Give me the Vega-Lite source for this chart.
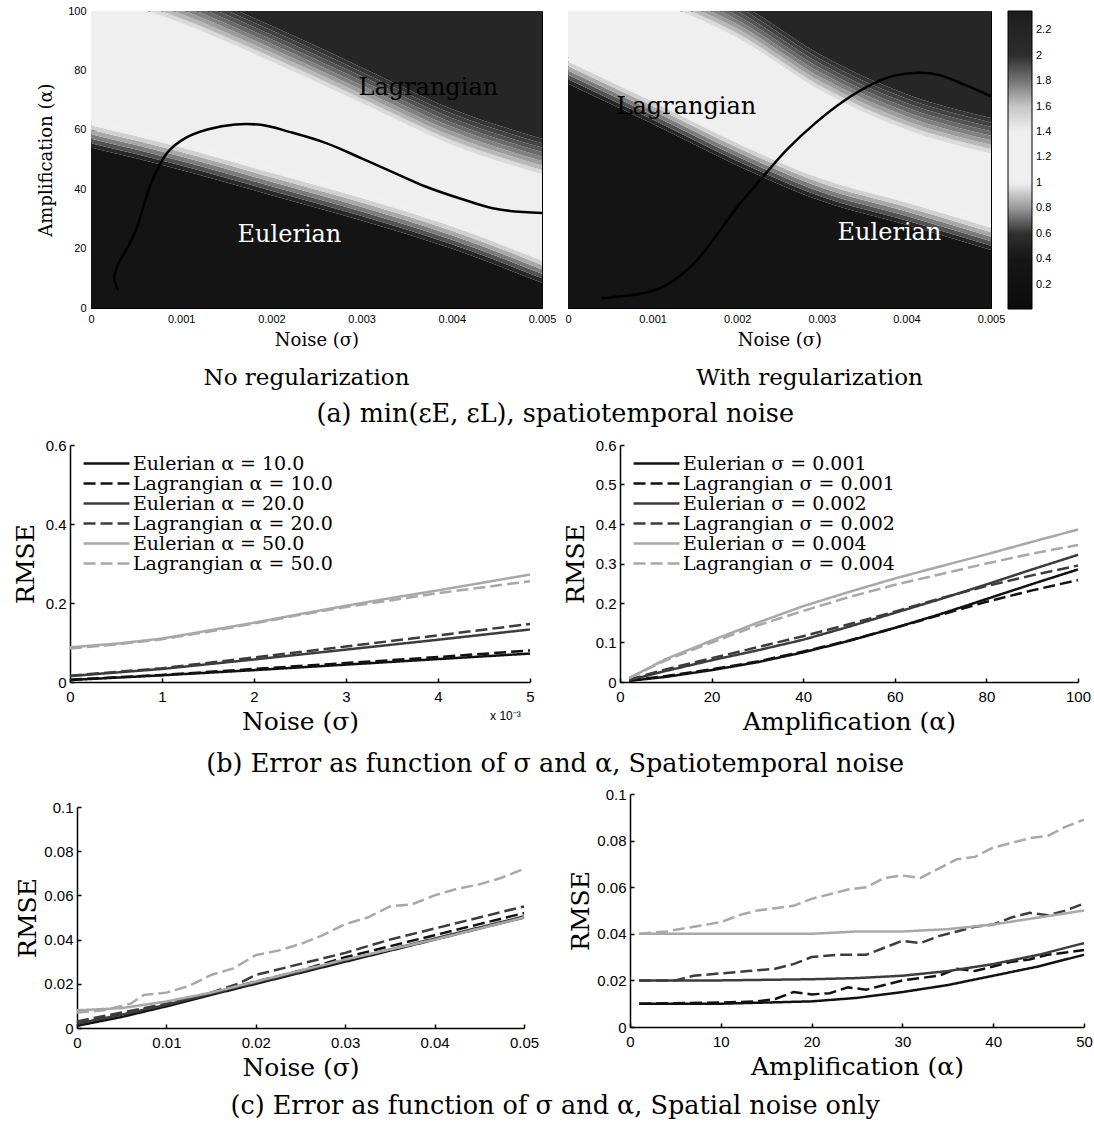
{
"$schema": "https://vega.github.io/schema/vega-lite/v6.json",
"padding": {"left": 4, "top": 4, "right": 2, "bottom": 2},
"background": "white",
"config": {
 "view": {"stroke": null},
 "font": "DejaVu Serif",
 "axis": {"labelFont": "Liberation Sans", "labelFontSize": 15, "labelColor": "black", "titleFont": "DejaVu Serif", "titleFontSize": 25, "titleFontWeight": "normal", "titleColor": "black", "domainColor": "black", "domainWidth": 1.5, "tickColor": "black", "tickWidth": 1.5, "tickSize": -4, "labelPadding": 8, "titlePadding": 3, "grid": false, "labelFlush": false, "labelOverlap": false},
 "axisX": {"labelPadding": 11.5, "titlePadding": 5},
 "title": {"font": "DejaVu Serif", "fontWeight": "normal", "fontSize": 25.5, "color": "black"},
 "legend": {"labelFont": "DejaVu Serif", "labelColor": "black"}
},
"datasets": {
 "hL": [
  {"b":1,"v":0.3,"x":0,"y":0,"y2":54},{"b":1,"v":0.3,"x":0.001,"y":0,"y2":46.5},{"b":1,"v":0.3,"x":0.002,"y":0,"y2":38},{"b":1,"v":0.3,"x":0.003,"y":0,"y2":29.5},{"b":1,"v":0.3,"x":0.004,"y":0,"y2":20},{"b":1,"v":0.3,"x":0.005,"y":0,"y2":8.5},
  {"b":2,"v":0.58,"x":0,"y":54,"y2":55.5},{"b":2,"v":0.58,"x":0.001,"y":46.5,"y2":48},{"b":2,"v":0.58,"x":0.002,"y":38,"y2":39.5},{"b":2,"v":0.58,"x":0.003,"y":29.5,"y2":31},{"b":2,"v":0.58,"x":0.004,"y":20,"y2":21.5},{"b":2,"v":0.58,"x":0.005,"y":8.5,"y2":10},
  {"b":3,"v":0.67,"x":0,"y":55.5,"y2":57},{"b":3,"v":0.67,"x":0.001,"y":48,"y2":49.5},{"b":3,"v":0.67,"x":0.002,"y":39.5,"y2":41},{"b":3,"v":0.67,"x":0.003,"y":31,"y2":32.5},{"b":3,"v":0.67,"x":0.004,"y":21.5,"y2":23},{"b":3,"v":0.67,"x":0.005,"y":10,"y2":11.5},
  {"b":4,"v":0.75,"x":0,"y":57,"y2":58.5},{"b":4,"v":0.75,"x":0.001,"y":49.5,"y2":51},{"b":4,"v":0.75,"x":0.002,"y":41,"y2":42.5},{"b":4,"v":0.75,"x":0.003,"y":32.5,"y2":34},{"b":4,"v":0.75,"x":0.004,"y":23,"y2":24.5},{"b":4,"v":0.75,"x":0.005,"y":11.5,"y2":13},
  {"b":5,"v":0.83,"x":0,"y":58.5,"y2":60},{"b":5,"v":0.83,"x":0.001,"y":51,"y2":52.5},{"b":5,"v":0.83,"x":0.002,"y":42.5,"y2":44},{"b":5,"v":0.83,"x":0.003,"y":34,"y2":35.5},{"b":5,"v":0.83,"x":0.004,"y":24.5,"y2":26},{"b":5,"v":0.83,"x":0.005,"y":13,"y2":14.5},
  {"b":6,"v":0.9,"x":0,"y":60,"y2":61.5},{"b":6,"v":0.9,"x":0.001,"y":52.5,"y2":54},{"b":6,"v":0.9,"x":0.002,"y":44,"y2":45.5},{"b":6,"v":0.9,"x":0.003,"y":35.5,"y2":37},{"b":6,"v":0.9,"x":0.004,"y":26,"y2":27.5},{"b":6,"v":0.9,"x":0.005,"y":14.5,"y2":16},
  {"b":7,"v":0.95,"x":0,"y":61.5,"y2":63},{"b":7,"v":0.95,"x":0.001,"y":54,"y2":55.5},{"b":7,"v":0.95,"x":0.002,"y":45.5,"y2":47},{"b":7,"v":0.95,"x":0.003,"y":37,"y2":38.5},{"b":7,"v":0.95,"x":0.004,"y":27.5,"y2":29},{"b":7,"v":0.95,"x":0.005,"y":16,"y2":17.5},
  {"b":8,"v":1.25,"x":0,"y":63,"y2":106},{"b":8,"v":1.25,"x":0.001,"y":55.5,"y2":96},{"b":8,"v":1.25,"x":0.002,"y":47,"y2":83},{"b":8,"v":1.25,"x":0.003,"y":38.5,"y2":69},{"b":8,"v":1.25,"x":0.004,"y":29,"y2":55},{"b":8,"v":1.25,"x":0.005,"y":17.5,"y2":45},
  {"b":9,"v":1.55,"x":0,"y":106,"y2":107.5},{"b":9,"v":1.55,"x":0.001,"y":96,"y2":97.5},{"b":9,"v":1.55,"x":0.002,"y":83,"y2":84.5},{"b":9,"v":1.55,"x":0.003,"y":69,"y2":70.5},{"b":9,"v":1.55,"x":0.004,"y":55,"y2":56.5},{"b":9,"v":1.55,"x":0.005,"y":45,"y2":46.5},
  {"b":10,"v":1.63,"x":0,"y":107.5,"y2":109},{"b":10,"v":1.63,"x":0.001,"y":97.5,"y2":99},{"b":10,"v":1.63,"x":0.002,"y":84.5,"y2":86},{"b":10,"v":1.63,"x":0.003,"y":70.5,"y2":72},{"b":10,"v":1.63,"x":0.004,"y":56.5,"y2":58},{"b":10,"v":1.63,"x":0.005,"y":46.5,"y2":48},
  {"b":11,"v":1.7,"x":0,"y":109,"y2":110.5},{"b":11,"v":1.7,"x":0.001,"y":99,"y2":100.5},{"b":11,"v":1.7,"x":0.002,"y":86,"y2":87.5},{"b":11,"v":1.7,"x":0.003,"y":72,"y2":73.5},{"b":11,"v":1.7,"x":0.004,"y":58,"y2":59.5},{"b":11,"v":1.7,"x":0.005,"y":48,"y2":49.5},
  {"b":12,"v":1.77,"x":0,"y":110.5,"y2":112},{"b":12,"v":1.77,"x":0.001,"y":100.5,"y2":102},{"b":12,"v":1.77,"x":0.002,"y":87.5,"y2":89},{"b":12,"v":1.77,"x":0.003,"y":73.5,"y2":75},{"b":12,"v":1.77,"x":0.004,"y":59.5,"y2":61},{"b":12,"v":1.77,"x":0.005,"y":49.5,"y2":51},
  {"b":13,"v":1.83,"x":0,"y":112,"y2":113.5},{"b":13,"v":1.83,"x":0.001,"y":102,"y2":103.5},{"b":13,"v":1.83,"x":0.002,"y":89,"y2":90.5},{"b":13,"v":1.83,"x":0.003,"y":75,"y2":76.5},{"b":13,"v":1.83,"x":0.004,"y":61,"y2":62.5},{"b":13,"v":1.83,"x":0.005,"y":51,"y2":52.5},
  {"b":14,"v":1.89,"x":0,"y":113.5,"y2":115},{"b":14,"v":1.89,"x":0.001,"y":103.5,"y2":105},{"b":14,"v":1.89,"x":0.002,"y":90.5,"y2":92},{"b":14,"v":1.89,"x":0.003,"y":76.5,"y2":78},{"b":14,"v":1.89,"x":0.004,"y":62.5,"y2":64},{"b":14,"v":1.89,"x":0.005,"y":52.5,"y2":54},
  {"b":15,"v":1.94,"x":0,"y":115,"y2":116.5},{"b":15,"v":1.94,"x":0.001,"y":105,"y2":106.5},{"b":15,"v":1.94,"x":0.002,"y":92,"y2":93.5},{"b":15,"v":1.94,"x":0.003,"y":78,"y2":79.5},{"b":15,"v":1.94,"x":0.004,"y":64,"y2":65.5},{"b":15,"v":1.94,"x":0.005,"y":54,"y2":55.5},
  {"b":16,"v":1.98,"x":0,"y":116.5,"y2":118},{"b":16,"v":1.98,"x":0.001,"y":106.5,"y2":108},{"b":16,"v":1.98,"x":0.002,"y":93.5,"y2":95},{"b":16,"v":1.98,"x":0.003,"y":79.5,"y2":81},{"b":16,"v":1.98,"x":0.004,"y":65.5,"y2":67},{"b":16,"v":1.98,"x":0.005,"y":55.5,"y2":57},
  {"b":17,"v":2.15,"x":0,"y":118,"y2":130},{"b":17,"v":2.15,"x":0.001,"y":108,"y2":130},{"b":17,"v":2.15,"x":0.002,"y":95,"y2":130},{"b":17,"v":2.15,"x":0.003,"y":81,"y2":130},{"b":17,"v":2.15,"x":0.004,"y":67,"y2":130},{"b":17,"v":2.15,"x":0.005,"y":57,"y2":130}
 ],
 "hR": [
  {"b":1,"v":0.3,"x":0,"y":0,"y2":75.5},{"b":1,"v":0.3,"x":0.001,"y":0,"y2":62},{"b":1,"v":0.3,"x":0.002,"y":0,"y2":48},{"b":1,"v":0.3,"x":0.003,"y":0,"y2":36},{"b":1,"v":0.3,"x":0.004,"y":0,"y2":28},{"b":1,"v":0.3,"x":0.005,"y":0,"y2":19.5},
  {"b":2,"v":0.58,"x":0,"y":75.5,"y2":77},{"b":2,"v":0.58,"x":0.001,"y":62,"y2":63.5},{"b":2,"v":0.58,"x":0.002,"y":48,"y2":49.5},{"b":2,"v":0.58,"x":0.003,"y":36,"y2":37.5},{"b":2,"v":0.58,"x":0.004,"y":28,"y2":29.5},{"b":2,"v":0.58,"x":0.005,"y":19.5,"y2":21},
  {"b":3,"v":0.67,"x":0,"y":77,"y2":78.5},{"b":3,"v":0.67,"x":0.001,"y":63.5,"y2":65},{"b":3,"v":0.67,"x":0.002,"y":49.5,"y2":51},{"b":3,"v":0.67,"x":0.003,"y":37.5,"y2":39},{"b":3,"v":0.67,"x":0.004,"y":29.5,"y2":31},{"b":3,"v":0.67,"x":0.005,"y":21,"y2":22.5},
  {"b":4,"v":0.75,"x":0,"y":78.5,"y2":80},{"b":4,"v":0.75,"x":0.001,"y":65,"y2":66.5},{"b":4,"v":0.75,"x":0.002,"y":51,"y2":52.5},{"b":4,"v":0.75,"x":0.003,"y":39,"y2":40.5},{"b":4,"v":0.75,"x":0.004,"y":31,"y2":32.5},{"b":4,"v":0.75,"x":0.005,"y":22.5,"y2":24},
  {"b":5,"v":0.83,"x":0,"y":80,"y2":81.5},{"b":5,"v":0.83,"x":0.001,"y":66.5,"y2":68},{"b":5,"v":0.83,"x":0.002,"y":52.5,"y2":54},{"b":5,"v":0.83,"x":0.003,"y":40.5,"y2":42},{"b":5,"v":0.83,"x":0.004,"y":32.5,"y2":34},{"b":5,"v":0.83,"x":0.005,"y":24,"y2":25.5},
  {"b":6,"v":0.9,"x":0,"y":81.5,"y2":83},{"b":6,"v":0.9,"x":0.001,"y":68,"y2":69.5},{"b":6,"v":0.9,"x":0.002,"y":54,"y2":55.5},{"b":6,"v":0.9,"x":0.003,"y":42,"y2":43.5},{"b":6,"v":0.9,"x":0.004,"y":34,"y2":35.5},{"b":6,"v":0.9,"x":0.005,"y":25.5,"y2":27},
  {"b":7,"v":0.95,"x":0,"y":83,"y2":84.5},{"b":7,"v":0.95,"x":0.001,"y":69.5,"y2":71},{"b":7,"v":0.95,"x":0.002,"y":55.5,"y2":57},{"b":7,"v":0.95,"x":0.003,"y":43.5,"y2":45},{"b":7,"v":0.95,"x":0.004,"y":35.5,"y2":37},{"b":7,"v":0.95,"x":0.005,"y":27,"y2":28.5},
  {"b":8,"v":1.25,"x":0,"y":84.5,"y2":116},{"b":8,"v":1.25,"x":0.001,"y":71,"y2":104},{"b":8,"v":1.25,"x":0.002,"y":57,"y2":91},{"b":8,"v":1.25,"x":0.003,"y":45,"y2":73},{"b":8,"v":1.25,"x":0.004,"y":37,"y2":60},{"b":8,"v":1.25,"x":0.005,"y":28.5,"y2":52},
  {"b":9,"v":1.55,"x":0,"y":116,"y2":117.5},{"b":9,"v":1.55,"x":0.001,"y":104,"y2":105.5},{"b":9,"v":1.55,"x":0.002,"y":91,"y2":92.5},{"b":9,"v":1.55,"x":0.003,"y":73,"y2":74.5},{"b":9,"v":1.55,"x":0.004,"y":60,"y2":61.5},{"b":9,"v":1.55,"x":0.005,"y":52,"y2":53.5},
  {"b":10,"v":1.63,"x":0,"y":117.5,"y2":119},{"b":10,"v":1.63,"x":0.001,"y":105.5,"y2":107},{"b":10,"v":1.63,"x":0.002,"y":92.5,"y2":94},{"b":10,"v":1.63,"x":0.003,"y":74.5,"y2":76},{"b":10,"v":1.63,"x":0.004,"y":61.5,"y2":63},{"b":10,"v":1.63,"x":0.005,"y":53.5,"y2":55},
  {"b":11,"v":1.7,"x":0,"y":119,"y2":120.5},{"b":11,"v":1.7,"x":0.001,"y":107,"y2":108.5},{"b":11,"v":1.7,"x":0.002,"y":94,"y2":95.5},{"b":11,"v":1.7,"x":0.003,"y":76,"y2":77.5},{"b":11,"v":1.7,"x":0.004,"y":63,"y2":64.5},{"b":11,"v":1.7,"x":0.005,"y":55,"y2":56.5},
  {"b":12,"v":1.77,"x":0,"y":120.5,"y2":122},{"b":12,"v":1.77,"x":0.001,"y":108.5,"y2":110},{"b":12,"v":1.77,"x":0.002,"y":95.5,"y2":97},{"b":12,"v":1.77,"x":0.003,"y":77.5,"y2":79},{"b":12,"v":1.77,"x":0.004,"y":64.5,"y2":66},{"b":12,"v":1.77,"x":0.005,"y":56.5,"y2":58},
  {"b":13,"v":1.83,"x":0,"y":122,"y2":123.5},{"b":13,"v":1.83,"x":0.001,"y":110,"y2":111.5},{"b":13,"v":1.83,"x":0.002,"y":97,"y2":98.5},{"b":13,"v":1.83,"x":0.003,"y":79,"y2":80.5},{"b":13,"v":1.83,"x":0.004,"y":66,"y2":67.5},{"b":13,"v":1.83,"x":0.005,"y":58,"y2":59.5},
  {"b":14,"v":1.89,"x":0,"y":123.5,"y2":125},{"b":14,"v":1.89,"x":0.001,"y":111.5,"y2":113},{"b":14,"v":1.89,"x":0.002,"y":98.5,"y2":100},{"b":14,"v":1.89,"x":0.003,"y":80.5,"y2":82},{"b":14,"v":1.89,"x":0.004,"y":67.5,"y2":69},{"b":14,"v":1.89,"x":0.005,"y":59.5,"y2":61},
  {"b":15,"v":1.94,"x":0,"y":125,"y2":126.5},{"b":15,"v":1.94,"x":0.001,"y":113,"y2":114.5},{"b":15,"v":1.94,"x":0.002,"y":100,"y2":101.5},{"b":15,"v":1.94,"x":0.003,"y":82,"y2":83.5},{"b":15,"v":1.94,"x":0.004,"y":69,"y2":70.5},{"b":15,"v":1.94,"x":0.005,"y":61,"y2":62.5},
  {"b":16,"v":1.98,"x":0,"y":126.5,"y2":128},{"b":16,"v":1.98,"x":0.001,"y":114.5,"y2":116},{"b":16,"v":1.98,"x":0.002,"y":101.5,"y2":103},{"b":16,"v":1.98,"x":0.003,"y":83.5,"y2":85},{"b":16,"v":1.98,"x":0.004,"y":70.5,"y2":72},{"b":16,"v":1.98,"x":0.005,"y":62.5,"y2":64},
  {"b":17,"v":2.15,"x":0,"y":128,"y2":130},{"b":17,"v":2.15,"x":0.001,"y":116,"y2":130},{"b":17,"v":2.15,"x":0.002,"y":103,"y2":130},{"b":17,"v":2.15,"x":0.003,"y":85,"y2":130},{"b":17,"v":2.15,"x":0.004,"y":72,"y2":130},{"b":17,"v":2.15,"x":0.005,"y":64,"y2":130}
 ],
 "cL": [
  {"i":1,"x":0.0003,"y":6},{"i":2,"x":0.00026,"y":10},{"i":3,"x":0.00029,"y":14},{"i":4,"x":0.00036,"y":18},{"i":5,"x":0.00045,"y":23},{"i":6,"x":0.00052,"y":28},{"i":7,"x":0.00057,"y":33},{"i":8,"x":0.00062,"y":38},{"i":9,"x":0.00068,"y":43},{"i":10,"x":0.00075,"y":47.5},{"i":11,"x":0.00085,"y":52.5},{"i":12,"x":0.00105,"y":57.3},{"i":13,"x":0.0013,"y":60.2},{"i":14,"x":0.0016,"y":61.8},{"i":15,"x":0.0019,"y":61.6},{"i":16,"x":0.0022,"y":59.3},{"i":17,"x":0.0026,"y":55.6},{"i":18,"x":0.003,"y":50.4},{"i":19,"x":0.0034,"y":45},{"i":20,"x":0.0037,"y":41},{"i":21,"x":0.0041,"y":36.8},{"i":22,"x":0.0045,"y":33.3},{"i":23,"x":0.005,"y":32}
 ],
 "cR": [
  {"i":1,"x":0.0004,"y":3.3},{"i":2,"x":0.00051,"y":3.6},{"i":3,"x":0.00084,"y":4.7},{"i":4,"x":0.00109,"y":6.7},{"i":5,"x":0.00134,"y":11.2},{"i":6,"x":0.00155,"y":16.9},{"i":7,"x":0.00176,"y":24.7},{"i":8,"x":0.00201,"y":34.3},{"i":9,"x":0.00226,"y":42.7},{"i":10,"x":0.00259,"y":53.4},{"i":11,"x":0.00293,"y":62.4},{"i":12,"x":0.00326,"y":69.7},{"i":13,"x":0.00359,"y":75.3},{"i":14,"x":0.00384,"y":78.1},{"i":15,"x":0.00414,"y":79.2},{"i":16,"x":0.00439,"y":78.4},{"i":17,"x":0.00468,"y":75.3},{"i":18,"x":0.005,"y":71.3}
 ],
 "bL": [
  {"s":"Eulerian α = 10.0","x":0,"r":0.005},{"s":"Eulerian α = 10.0","x":0.001,"r":0.017},{"s":"Eulerian α = 10.0","x":0.002,"r":0.03},{"s":"Eulerian α = 10.0","x":0.003,"r":0.044},{"s":"Eulerian α = 10.0","x":0.004,"r":0.058},{"s":"Eulerian α = 10.0","x":0.005,"r":0.072},
  {"s":"Lagrangian α = 10.0","x":0,"r":0.006},{"s":"Lagrangian α = 10.0","x":0.001,"r":0.018},{"s":"Lagrangian α = 10.0","x":0.002,"r":0.033},{"s":"Lagrangian α = 10.0","x":0.003,"r":0.048},{"s":"Lagrangian α = 10.0","x":0.004,"r":0.063},{"s":"Lagrangian α = 10.0","x":0.005,"r":0.08},
  {"s":"Eulerian α = 20.0","x":0,"r":0.015},{"s":"Eulerian α = 20.0","x":0.001,"r":0.033},{"s":"Eulerian α = 20.0","x":0.002,"r":0.057},{"s":"Eulerian α = 20.0","x":0.003,"r":0.082},{"s":"Eulerian α = 20.0","x":0.004,"r":0.107},{"s":"Eulerian α = 20.0","x":0.005,"r":0.133},
  {"s":"Lagrangian α = 20.0","x":0,"r":0.016},{"s":"Lagrangian α = 20.0","x":0.001,"r":0.035},{"s":"Lagrangian α = 20.0","x":0.002,"r":0.062},{"s":"Lagrangian α = 20.0","x":0.003,"r":0.09},{"s":"Lagrangian α = 20.0","x":0.004,"r":0.118},{"s":"Lagrangian α = 20.0","x":0.005,"r":0.147},
  {"s":"Eulerian α = 50.0","x":0,"r":0.088},{"s":"Eulerian α = 50.0","x":0.0005,"r":0.097},{"s":"Eulerian α = 50.0","x":0.001,"r":0.11},{"s":"Eulerian α = 50.0","x":0.0015,"r":0.13},{"s":"Eulerian α = 50.0","x":0.002,"r":0.15},{"s":"Eulerian α = 50.0","x":0.0025,"r":0.172},{"s":"Eulerian α = 50.0","x":0.003,"r":0.193},{"s":"Eulerian α = 50.0","x":0.0035,"r":0.213},{"s":"Eulerian α = 50.0","x":0.004,"r":0.232},{"s":"Eulerian α = 50.0","x":0.0045,"r":0.252},{"s":"Eulerian α = 50.0","x":0.005,"r":0.272},
  {"s":"Lagrangian α = 50.0","x":0,"r":0.085},{"s":"Lagrangian α = 50.0","x":0.0005,"r":0.095},{"s":"Lagrangian α = 50.0","x":0.001,"r":0.108},{"s":"Lagrangian α = 50.0","x":0.0015,"r":0.127},{"s":"Lagrangian α = 50.0","x":0.002,"r":0.148},{"s":"Lagrangian α = 50.0","x":0.0025,"r":0.17},{"s":"Lagrangian α = 50.0","x":0.003,"r":0.19},{"s":"Lagrangian α = 50.0","x":0.0035,"r":0.207},{"s":"Lagrangian α = 50.0","x":0.004,"r":0.225},{"s":"Lagrangian α = 50.0","x":0.0045,"r":0.24},{"s":"Lagrangian α = 50.0","x":0.005,"r":0.255}
 ],
 "bR": [
  {"s":"Eulerian σ = 0.001","x":2,"r":0.003},{"s":"Eulerian σ = 0.001","x":10,"r":0.013},{"s":"Eulerian σ = 0.001","x":20,"r":0.03},{"s":"Eulerian σ = 0.001","x":30,"r":0.05},{"s":"Eulerian σ = 0.001","x":40,"r":0.075},{"s":"Eulerian σ = 0.001","x":50,"r":0.104},{"s":"Eulerian σ = 0.001","x":60,"r":0.137},{"s":"Eulerian σ = 0.001","x":70,"r":0.172},{"s":"Eulerian σ = 0.001","x":80,"r":0.21},{"s":"Eulerian σ = 0.001","x":90,"r":0.248},{"s":"Eulerian σ = 0.001","x":100,"r":0.285},
  {"s":"Lagrangian σ = 0.001","x":2,"r":0.004},{"s":"Lagrangian σ = 0.001","x":10,"r":0.015},{"s":"Lagrangian σ = 0.001","x":20,"r":0.032},{"s":"Lagrangian σ = 0.001","x":30,"r":0.052},{"s":"Lagrangian σ = 0.001","x":40,"r":0.077},{"s":"Lagrangian σ = 0.001","x":50,"r":0.105},{"s":"Lagrangian σ = 0.001","x":60,"r":0.137},{"s":"Lagrangian σ = 0.001","x":70,"r":0.17},{"s":"Lagrangian σ = 0.001","x":80,"r":0.203},{"s":"Lagrangian σ = 0.001","x":90,"r":0.232},{"s":"Lagrangian σ = 0.001","x":100,"r":0.258},
  {"s":"Eulerian σ = 0.002","x":2,"r":0.005},{"s":"Eulerian σ = 0.002","x":10,"r":0.028},{"s":"Eulerian σ = 0.002","x":20,"r":0.055},{"s":"Eulerian σ = 0.002","x":30,"r":0.08},{"s":"Eulerian σ = 0.002","x":40,"r":0.107},{"s":"Eulerian σ = 0.002","x":50,"r":0.14},{"s":"Eulerian σ = 0.002","x":60,"r":0.175},{"s":"Eulerian σ = 0.002","x":70,"r":0.21},{"s":"Eulerian σ = 0.002","x":80,"r":0.247},{"s":"Eulerian σ = 0.002","x":90,"r":0.285},{"s":"Eulerian σ = 0.002","x":100,"r":0.322},
  {"s":"Lagrangian σ = 0.002","x":2,"r":0.006},{"s":"Lagrangian σ = 0.002","x":10,"r":0.032},{"s":"Lagrangian σ = 0.002","x":20,"r":0.06},{"s":"Lagrangian σ = 0.002","x":30,"r":0.088},{"s":"Lagrangian σ = 0.002","x":40,"r":0.116},{"s":"Lagrangian σ = 0.002","x":50,"r":0.146},{"s":"Lagrangian σ = 0.002","x":60,"r":0.178},{"s":"Lagrangian σ = 0.002","x":70,"r":0.212},{"s":"Lagrangian σ = 0.002","x":80,"r":0.243},{"s":"Lagrangian σ = 0.002","x":90,"r":0.27},{"s":"Lagrangian σ = 0.002","x":100,"r":0.295},
  {"s":"Eulerian σ = 0.004","x":2,"r":0.01},{"s":"Eulerian σ = 0.004","x":10,"r":0.058},{"s":"Eulerian σ = 0.004","x":20,"r":0.105},{"s":"Eulerian σ = 0.004","x":30,"r":0.15},{"s":"Eulerian σ = 0.004","x":40,"r":0.192},{"s":"Eulerian σ = 0.004","x":50,"r":0.228},{"s":"Eulerian σ = 0.004","x":60,"r":0.262},{"s":"Eulerian σ = 0.004","x":70,"r":0.293},{"s":"Eulerian σ = 0.004","x":80,"r":0.323},{"s":"Eulerian σ = 0.004","x":90,"r":0.355},{"s":"Eulerian σ = 0.004","x":100,"r":0.386},
  {"s":"Lagrangian σ = 0.004","x":2,"r":0.01},{"s":"Lagrangian σ = 0.004","x":10,"r":0.055},{"s":"Lagrangian σ = 0.004","x":20,"r":0.1},{"s":"Lagrangian σ = 0.004","x":30,"r":0.143},{"s":"Lagrangian σ = 0.004","x":40,"r":0.18},{"s":"Lagrangian σ = 0.004","x":50,"r":0.215},{"s":"Lagrangian σ = 0.004","x":60,"r":0.246},{"s":"Lagrangian σ = 0.004","x":70,"r":0.273},{"s":"Lagrangian σ = 0.004","x":80,"r":0.3},{"s":"Lagrangian σ = 0.004","x":90,"r":0.325},{"s":"Lagrangian σ = 0.004","x":100,"r":0.347}
 ],
 "sL": [
  {"s":"Eulerian α = 10.0","x":0,"r":0.001},{"s":"Eulerian α = 10.0","x":0.005,"r":0.005},{"s":"Eulerian α = 10.0","x":0.01,"r":0.0098},{"s":"Eulerian α = 10.0","x":0.015,"r":0.015},{"s":"Eulerian α = 10.0","x":0.02,"r":0.02},{"s":"Eulerian α = 10.0","x":0.025,"r":0.025},{"s":"Eulerian α = 10.0","x":0.03,"r":0.03},{"s":"Eulerian α = 10.0","x":0.035,"r":0.035},{"s":"Eulerian α = 10.0","x":0.04,"r":0.04},{"s":"Eulerian α = 10.0","x":0.045,"r":0.045},{"s":"Eulerian α = 10.0","x":0.05,"r":0.05},
  {"s":"Lagrangian α = 10.0","x":0,"r":0.002},{"s":"Lagrangian α = 10.0","x":0.01,"r":0.0105},{"s":"Lagrangian α = 10.0","x":0.02,"r":0.021},{"s":"Lagrangian α = 10.0","x":0.025,"r":0.026},{"s":"Lagrangian α = 10.0","x":0.03,"r":0.032},{"s":"Lagrangian α = 10.0","x":0.035,"r":0.037},{"s":"Lagrangian α = 10.0","x":0.04,"r":0.042},{"s":"Lagrangian α = 10.0","x":0.045,"r":0.047},{"s":"Lagrangian α = 10.0","x":0.05,"r":0.052},
  {"s":"Eulerian α = 20.0","x":0,"r":0.002},{"s":"Eulerian α = 20.0","x":0.005,"r":0.006},{"s":"Eulerian α = 20.0","x":0.01,"r":0.0105},{"s":"Eulerian α = 20.0","x":0.02,"r":0.0205},{"s":"Eulerian α = 20.0","x":0.03,"r":0.0305},{"s":"Eulerian α = 20.0","x":0.04,"r":0.0405},{"s":"Eulerian α = 20.0","x":0.05,"r":0.0505},
  {"s":"Lagrangian α = 20.0","x":0,"r":0.003},{"s":"Lagrangian α = 20.0","x":0.01,"r":0.011},{"s":"Lagrangian α = 20.0","x":0.015,"r":0.016},{"s":"Lagrangian α = 20.0","x":0.018,"r":0.02},{"s":"Lagrangian α = 20.0","x":0.02,"r":0.024},{"s":"Lagrangian α = 20.0","x":0.025,"r":0.029},{"s":"Lagrangian α = 20.0","x":0.03,"r":0.034},{"s":"Lagrangian α = 20.0","x":0.035,"r":0.04},{"s":"Lagrangian α = 20.0","x":0.04,"r":0.045},{"s":"Lagrangian α = 20.0","x":0.045,"r":0.05},{"s":"Lagrangian α = 20.0","x":0.05,"r":0.055},
  {"s":"Eulerian α = 50.0","x":0,"r":0.008},{"s":"Eulerian α = 50.0","x":0.005,"r":0.009},{"s":"Eulerian α = 50.0","x":0.01,"r":0.012},{"s":"Eulerian α = 50.0","x":0.015,"r":0.016},{"s":"Eulerian α = 50.0","x":0.02,"r":0.021},{"s":"Eulerian α = 50.0","x":0.03,"r":0.031},{"s":"Eulerian α = 50.0","x":0.04,"r":0.04},{"s":"Eulerian α = 50.0","x":0.05,"r":0.05},
  {"s":"Lagrangian α = 50.0","x":0,"r":0.007},{"s":"Lagrangian α = 50.0","x":0.003,"r":0.008},{"s":"Lagrangian α = 50.0","x":0.006,"r":0.011},{"s":"Lagrangian α = 50.0","x":0.0075,"r":0.015},{"s":"Lagrangian α = 50.0","x":0.01,"r":0.016},{"s":"Lagrangian α = 50.0","x":0.0125,"r":0.019},{"s":"Lagrangian α = 50.0","x":0.015,"r":0.024},{"s":"Lagrangian α = 50.0","x":0.0175,"r":0.027},{"s":"Lagrangian α = 50.0","x":0.02,"r":0.033},{"s":"Lagrangian α = 50.0","x":0.0225,"r":0.035},{"s":"Lagrangian α = 50.0","x":0.025,"r":0.038},{"s":"Lagrangian α = 50.0","x":0.0275,"r":0.042},{"s":"Lagrangian α = 50.0","x":0.03,"r":0.047},{"s":"Lagrangian α = 50.0","x":0.0325,"r":0.05},{"s":"Lagrangian α = 50.0","x":0.035,"r":0.055},{"s":"Lagrangian α = 50.0","x":0.0375,"r":0.056},{"s":"Lagrangian α = 50.0","x":0.04,"r":0.06},{"s":"Lagrangian α = 50.0","x":0.0425,"r":0.063},{"s":"Lagrangian α = 50.0","x":0.045,"r":0.065},{"s":"Lagrangian α = 50.0","x":0.0475,"r":0.068},{"s":"Lagrangian α = 50.0","x":0.05,"r":0.072}
 ],
 "sR": [
  {"s":"Eulerian σ = 0.001","x":1,"r":0.01},{"s":"Eulerian σ = 0.001","x":10,"r":0.01},{"s":"Eulerian σ = 0.001","x":15,"r":0.0105},{"s":"Eulerian σ = 0.001","x":20,"r":0.011},{"s":"Eulerian σ = 0.001","x":25,"r":0.0125},{"s":"Eulerian σ = 0.001","x":30,"r":0.015},{"s":"Eulerian σ = 0.001","x":35,"r":0.018},{"s":"Eulerian σ = 0.001","x":40,"r":0.022},{"s":"Eulerian σ = 0.001","x":45,"r":0.026},{"s":"Eulerian σ = 0.001","x":50,"r":0.031},
  {"s":"Lagrangian σ = 0.001","x":1,"r":0.01},{"s":"Lagrangian σ = 0.001","x":10,"r":0.0105},{"s":"Lagrangian σ = 0.001","x":14,"r":0.011},{"s":"Lagrangian σ = 0.001","x":16,"r":0.012},{"s":"Lagrangian σ = 0.001","x":18,"r":0.015},{"s":"Lagrangian σ = 0.001","x":20,"r":0.014},{"s":"Lagrangian σ = 0.001","x":22,"r":0.0145},{"s":"Lagrangian σ = 0.001","x":24,"r":0.017},{"s":"Lagrangian σ = 0.001","x":26,"r":0.016},{"s":"Lagrangian σ = 0.001","x":28,"r":0.018},{"s":"Lagrangian σ = 0.001","x":30,"r":0.02},{"s":"Lagrangian σ = 0.001","x":32,"r":0.021},{"s":"Lagrangian σ = 0.001","x":34,"r":0.022},{"s":"Lagrangian σ = 0.001","x":36,"r":0.025},{"s":"Lagrangian σ = 0.001","x":38,"r":0.024},{"s":"Lagrangian σ = 0.001","x":40,"r":0.026},{"s":"Lagrangian σ = 0.001","x":42,"r":0.028},{"s":"Lagrangian σ = 0.001","x":44,"r":0.029},{"s":"Lagrangian σ = 0.001","x":46,"r":0.031},{"s":"Lagrangian σ = 0.001","x":48,"r":0.032},{"s":"Lagrangian σ = 0.001","x":50,"r":0.033},
  {"s":"Eulerian σ = 0.002","x":1,"r":0.02},{"s":"Eulerian σ = 0.002","x":10,"r":0.02},{"s":"Eulerian σ = 0.002","x":20,"r":0.0205},{"s":"Eulerian σ = 0.002","x":25,"r":0.021},{"s":"Eulerian σ = 0.002","x":30,"r":0.022},{"s":"Eulerian σ = 0.002","x":35,"r":0.024},{"s":"Eulerian σ = 0.002","x":40,"r":0.027},{"s":"Eulerian σ = 0.002","x":45,"r":0.031},{"s":"Eulerian σ = 0.002","x":50,"r":0.036},
  {"s":"Lagrangian σ = 0.002","x":1,"r":0.02},{"s":"Lagrangian σ = 0.002","x":5,"r":0.02},{"s":"Lagrangian σ = 0.002","x":7,"r":0.022},{"s":"Lagrangian σ = 0.002","x":10,"r":0.023},{"s":"Lagrangian σ = 0.002","x":13,"r":0.024},{"s":"Lagrangian σ = 0.002","x":16,"r":0.025},{"s":"Lagrangian σ = 0.002","x":18,"r":0.027},{"s":"Lagrangian σ = 0.002","x":20,"r":0.03},{"s":"Lagrangian σ = 0.002","x":23,"r":0.031},{"s":"Lagrangian σ = 0.002","x":26,"r":0.031},{"s":"Lagrangian σ = 0.002","x":28,"r":0.034},{"s":"Lagrangian σ = 0.002","x":30,"r":0.037},{"s":"Lagrangian σ = 0.002","x":32,"r":0.036},{"s":"Lagrangian σ = 0.002","x":34,"r":0.039},{"s":"Lagrangian σ = 0.002","x":36,"r":0.041},{"s":"Lagrangian σ = 0.002","x":38,"r":0.043},{"s":"Lagrangian σ = 0.002","x":40,"r":0.044},{"s":"Lagrangian σ = 0.002","x":42,"r":0.047},{"s":"Lagrangian σ = 0.002","x":44,"r":0.049},{"s":"Lagrangian σ = 0.002","x":46,"r":0.048},{"s":"Lagrangian σ = 0.002","x":48,"r":0.05},{"s":"Lagrangian σ = 0.002","x":50,"r":0.053},
  {"s":"Eulerian σ = 0.004","x":1,"r":0.04},{"s":"Eulerian σ = 0.004","x":10,"r":0.04},{"s":"Eulerian σ = 0.004","x":20,"r":0.04},{"s":"Eulerian σ = 0.004","x":25,"r":0.041},{"s":"Eulerian σ = 0.004","x":30,"r":0.041},{"s":"Eulerian σ = 0.004","x":35,"r":0.042},{"s":"Eulerian σ = 0.004","x":40,"r":0.044},{"s":"Eulerian σ = 0.004","x":45,"r":0.047},{"s":"Eulerian σ = 0.004","x":50,"r":0.05},
  {"s":"Lagrangian σ = 0.004","x":1,"r":0.04},{"s":"Lagrangian σ = 0.004","x":4,"r":0.041},{"s":"Lagrangian σ = 0.004","x":7,"r":0.043},{"s":"Lagrangian σ = 0.004","x":10,"r":0.045},{"s":"Lagrangian σ = 0.004","x":12,"r":0.048},{"s":"Lagrangian σ = 0.004","x":14,"r":0.05},{"s":"Lagrangian σ = 0.004","x":16,"r":0.051},{"s":"Lagrangian σ = 0.004","x":18,"r":0.052},{"s":"Lagrangian σ = 0.004","x":20,"r":0.055},{"s":"Lagrangian σ = 0.004","x":22,"r":0.057},{"s":"Lagrangian σ = 0.004","x":24,"r":0.059},{"s":"Lagrangian σ = 0.004","x":26,"r":0.06},{"s":"Lagrangian σ = 0.004","x":28,"r":0.064},{"s":"Lagrangian σ = 0.004","x":30,"r":0.065},{"s":"Lagrangian σ = 0.004","x":32,"r":0.064},{"s":"Lagrangian σ = 0.004","x":34,"r":0.068},{"s":"Lagrangian σ = 0.004","x":36,"r":0.072},{"s":"Lagrangian σ = 0.004","x":38,"r":0.073},{"s":"Lagrangian σ = 0.004","x":40,"r":0.077},{"s":"Lagrangian σ = 0.004","x":42,"r":0.079},{"s":"Lagrangian σ = 0.004","x":44,"r":0.081},{"s":"Lagrangian σ = 0.004","x":46,"r":0.082},{"s":"Lagrangian σ = 0.004","x":48,"r":0.086},{"s":"Lagrangian σ = 0.004","x":50,"r":0.089}
 ]
},
"spacing": 10,
"resolve": {"scale": {"color": "independent", "strokeDash": "independent"}, "legend": {"color": "independent", "strokeDash": "independent"}},
"vconcat": [
 {
  "spacing": 0,
  "resolve": {"scale": {"color": "independent", "strokeDash": "independent"}, "legend": {"color": "independent", "strokeDash": "independent"}},
  "title": {"text": "(a) min(εE, εL), spatiotemporal noise", "orient": "bottom", "anchor": "middle", "offset": 12, "dx": 27},
  "hconcat": [
   {"width": 33, "height": 1, "data": {"values": []}, "mark": "rect", "encoding": {}},
   {
    "spacing": 7,
    "resolve": {"scale": {"color": "independent"}, "legend": {"color": "independent"}},
    "hconcat": [
     {
      "width": 451, "height": 297,
      "view": {"stroke": "black", "strokeWidth": 1},
      "title": {"text": "No regularization", "orient": "bottom", "fontSize": 23, "offset": 17, "dx": -10},
      "layer": [
       {"data": {"name": "hL"}, "mark": {"type": "area", "clip": true, "interpolate": "monotone"},
        "encoding": {
         "x": {"field": "x", "type": "quantitative", "scale": {"domain": [0, 0.005], "nice": false, "zero": false}, "axis": {"values": [0, 0.001, 0.002, 0.003, 0.004, 0.005], "format": "~g", "title": "Noise (σ)", "labelFontSize": 11, "titleFontSize": 18, "domain": false, "tickWidth": 1, "labelPadding": 9.5, "titlePadding": 7}},
         "y": {"field": "y", "type": "quantitative", "stack": null, "scale": {"domain": [0, 100], "nice": false}, "axis": {"values": [0, 20, 40, 60, 80, 100], "title": "Amplification (α)", "labelFontSize": 11, "titleFontSize": 18, "domain": false, "tickWidth": 1, "labelPadding": 9, "titlePadding": 12}},
         "y2": {"field": "y2"},
         "detail": {"field": "b", "type": "nominal"},
         "color": {"field": "v", "type": "quantitative", "scale": {"type": "linear", "zero": false, "domain": [0.01, 0.55, 0.95, 1.5, 2.0, 2.35], "range": ["#0a0a0a", "#1a1a1a", "#efefef", "#efefef", "#2e2e2e", "#1c1c1c"]}, "legend": null}
        }},
       {"data": {"name": "cL"}, "mark": {"type": "line", "color": "black", "strokeWidth": 2.5, "interpolate": "catmull-rom", "clip": true},
        "encoding": {"x": {"field": "x", "type": "quantitative"}, "y": {"field": "y", "type": "quantitative"}, "order": {"field": "i", "type": "quantitative"}}},
       {"data": {"values": [{"x": 0.00374, "y": 74, "t": "Lagrangian"}]}, "mark": {"type": "text", "font": "DejaVu Serif", "fontSize": 24, "color": "black"},
        "encoding": {"x": {"field": "x", "type": "quantitative"}, "y": {"field": "y", "type": "quantitative"}, "text": {"field": "t"}}},
       {"data": {"values": [{"x": 0.0022, "y": 24.7, "t": "Eulerian"}]}, "mark": {"type": "text", "font": "DejaVu Serif", "fontSize": 24, "color": "white"},
        "encoding": {"x": {"field": "x", "type": "quantitative"}, "y": {"field": "y", "type": "quantitative"}, "text": {"field": "t"}}}
      ]
     },
     {
      "width": 423, "height": 297,
      "view": {"stroke": "black", "strokeWidth": 1},
      "title": {"text": "With regularization", "orient": "bottom", "fontSize": 23, "offset": 17, "dx": 30},
      "layer": [
       {"data": {"name": "hR"}, "mark": {"type": "area", "clip": true, "interpolate": "monotone"},
        "encoding": {
         "x": {"field": "x", "type": "quantitative", "scale": {"domain": [0, 0.005], "nice": false, "zero": false}, "axis": {"values": [0, 0.001, 0.002, 0.003, 0.004, 0.005], "format": "~g", "title": "Noise (σ)", "labelFontSize": 11, "titleFontSize": 18, "domain": false, "tickWidth": 1, "labelPadding": 9.5, "titlePadding": 7}},
         "y": {"field": "y", "type": "quantitative", "stack": null, "scale": {"domain": [0, 100], "nice": false}, "axis": {"values": [0, 20, 40, 60, 80, 100], "labels": false, "title": null, "domain": false, "tickWidth": 1}},
         "y2": {"field": "y2"},
         "detail": {"field": "b", "type": "nominal"},
         "color": {"field": "v", "type": "quantitative", "scale": {"type": "linear", "zero": false, "domain": [0.01, 0.55, 0.95, 1.5, 2.0, 2.35], "range": ["#0a0a0a", "#1a1a1a", "#efefef", "#efefef", "#2e2e2e", "#1c1c1c"]},
          "legend": {"title": null, "orient": "right", "offset": 17, "padding": 0, "gradientLength": 298, "gradientThickness": 24, "gradientStrokeColor": "black", "gradientStrokeWidth": 1, "values": [0.2, 0.4, 0.6, 0.8, 1, 1.2, 1.4, 1.6, 1.8, 2, 2.2], "format": "~g", "labelFont": "Liberation Sans", "labelFontSize": 11, "labelOffset": 4, "labelOverlap": false}}
        }},
       {"data": {"name": "cR"}, "mark": {"type": "line", "color": "black", "strokeWidth": 2.5, "interpolate": "catmull-rom", "clip": true},
        "encoding": {"x": {"field": "x", "type": "quantitative"}, "y": {"field": "y", "type": "quantitative"}, "order": {"field": "i", "type": "quantitative"}}},
       {"data": {"values": [{"x": 0.0014, "y": 67.6, "t": "Lagrangian"}]}, "mark": {"type": "text", "font": "DejaVu Serif", "fontSize": 24, "color": "black"},
        "encoding": {"x": {"field": "x", "type": "quantitative"}, "y": {"field": "y", "type": "quantitative"}, "text": {"field": "t"}}},
       {"data": {"values": [{"x": 0.0038, "y": 25.3, "t": "Eulerian"}]}, "mark": {"type": "text", "font": "DejaVu Serif", "fontSize": 24, "color": "white"},
        "encoding": {"x": {"field": "x", "type": "quantitative"}, "y": {"field": "y", "type": "quantitative"}, "text": {"field": "t"}}}
      ]
     }
    ]
   }
  ]
 },
 {
  "spacing": 0,
  "resolve": {"scale": {"color": "independent", "strokeDash": "independent"}, "legend": {"color": "independent", "strokeDash": "independent"}},
  "title": {"text": "(b) Error as function of σ and α, Spatiotemporal noise", "orient": "bottom", "anchor": "middle", "offset": 17, "dx": 8},
  "hconcat": [
   {"width": 9, "height": 1, "data": {"values": []}, "mark": "rect", "encoding": {}},
   {
    "spacing": 28,
    "resolve": {"scale": {"color": "independent", "strokeDash": "independent"}, "legend": {"color": "independent", "strokeDash": "independent"}},
    "hconcat": [
     {
      "width": 460, "height": 237,
      "layer": [
       {"data": {"name": "bL"}, "mark": {"type": "line", "strokeWidth": 2.5},
        "encoding": {
         "x": {"field": "x", "type": "quantitative", "scale": {"domain": [0, 0.005], "nice": false}, "axis": {"values": [0, 0.001, 0.002, 0.003, 0.004, 0.005], "labelExpr": "format(datum.value * 1000, '~g')", "title": "Noise (σ)"}},
         "y": {"field": "r", "type": "quantitative", "scale": {"domain": [0, 0.6], "nice": false}, "axis": {"values": [0, 0.1, 0.2, 0.3, 0.4, 0.5, 0.6], "format": "~g", "title": "RMSE", "titlePadding": 7}},
         "color": {"field": "s", "type": "nominal", "scale": {"domain": ["Eulerian α = 10.0", "Lagrangian α = 10.0", "Eulerian α = 20.0", "Lagrangian α = 20.0", "Eulerian α = 50.0", "Lagrangian α = 50.0"], "range": ["#111111", "#111111", "#3c3c3c", "#3c3c3c", "#a8a8a8", "#a8a8a8"]},
          "legend": {"orient": "none", "legendX": 26.5, "legendY": 8.5, "padding": 0, "title": null, "labelFontSize": 19, "labelLimit": 0, "symbolType": "M-2.7,0H2.7", "symbolSize": 289, "symbolStrokeWidth": 2.5, "labelOffset": 16.5, "rowPadding": 0}},
         "strokeDash": {"field": "s", "type": "nominal", "scale": {"domain": ["Eulerian α = 10.0", "Lagrangian α = 10.0", "Eulerian α = 20.0", "Lagrangian α = 20.0", "Eulerian α = 50.0", "Lagrangian α = 50.0"], "range": [[1, 0], [12, 5], [1, 0], [12, 5], [1, 0], [12, 5]]},
          "legend": {"orient": "none", "legendX": 26.5, "legendY": 8.5, "padding": 0, "title": null, "labelFontSize": 19, "labelLimit": 0, "symbolType": "M-2.7,0H2.7", "symbolSize": 289, "symbolStrokeWidth": 2.5, "labelOffset": 16.5, "rowPadding": 0}}
        }},
       {"data": {"values": [{"t": "x 10⁻³"}]}, "mark": {"type": "text", "font": "Liberation Sans", "fontSize": 12, "align": "right", "baseline": "middle", "color": "black"},
        "encoding": {"x": {"datum": 0.0049}, "y": {"datum": -0.085}, "text": {"field": "t"}}}
      ]
     },
     {
      "width": 458, "height": 237,
      "mark": {"type": "line", "strokeWidth": 2.5},
      "data": {"name": "bR"},
      "encoding": {
       "x": {"field": "x", "type": "quantitative", "scale": {"domain": [0, 100], "nice": false}, "axis": {"values": [0, 20, 40, 60, 80, 100], "title": "Amplification (α)"}},
       "y": {"field": "r", "type": "quantitative", "scale": {"domain": [0, 0.6], "nice": false}, "axis": {"values": [0, 0.1, 0.2, 0.3, 0.4, 0.5, 0.6], "format": "~g", "title": "RMSE", "titlePadding": 7}},
       "color": {"field": "s", "type": "nominal", "scale": {"domain": ["Eulerian σ = 0.001", "Lagrangian σ = 0.001", "Eulerian σ = 0.002", "Lagrangian σ = 0.002", "Eulerian σ = 0.004", "Lagrangian σ = 0.004"], "range": ["#111111", "#111111", "#3c3c3c", "#3c3c3c", "#a8a8a8", "#a8a8a8"]},
        "legend": {"orient": "none", "legendX": 26.5, "legendY": 8.5, "padding": 0, "title": null, "labelFontSize": 19, "labelLimit": 0, "symbolType": "M-2.7,0H2.7", "symbolSize": 289, "symbolStrokeWidth": 2.5, "labelOffset": 16.5, "rowPadding": 0}},
       "strokeDash": {"field": "s", "type": "nominal", "scale": {"domain": ["Eulerian σ = 0.001", "Lagrangian σ = 0.001", "Eulerian σ = 0.002", "Lagrangian σ = 0.002", "Eulerian σ = 0.004", "Lagrangian σ = 0.004"], "range": [[1, 0], [12, 5], [1, 0], [12, 5], [1, 0], [12, 5]]},
        "legend": {"orient": "none", "legendX": 26.5, "legendY": 8.5, "padding": 0, "title": null, "labelFontSize": 19, "labelLimit": 0, "symbolType": "M-2.7,0H2.7", "symbolSize": 289, "symbolStrokeWidth": 2.5, "labelOffset": 16.5, "rowPadding": 0}}
      }
     }
    ]
   }
  ]
 },
 {
  "spacing": 0,
  "resolve": {"scale": {"color": "independent", "strokeDash": "independent"}, "legend": {"color": "independent", "strokeDash": "independent"}},
  "title": {"text": "(c) Error as function of σ and α, Spatial noise only", "orient": "bottom", "anchor": "middle", "offset": 13, "dx": 7},
  "hconcat": [
   {"width": 11, "height": 1, "data": {"values": []}, "mark": "rect", "encoding": {}},
   {
    "spacing": 29,
    "resolve": {"scale": {"color": "independent", "strokeDash": "independent"}, "legend": {"color": "independent", "strokeDash": "independent"}},
    "hconcat": [
     {
      "spacing": 0,
      "vconcat": [
       {"width": 1, "height": 6, "data": {"values": []}, "mark": "rect", "encoding": {}},
       {
        "width": 447, "height": 221,
        "data": {"name": "sL"},
        "mark": {"type": "line", "strokeWidth": 2.5},
        "encoding": {
         "x": {"field": "x", "type": "quantitative", "scale": {"domain": [0, 0.05], "nice": false}, "axis": {"values": [0, 0.01, 0.02, 0.03, 0.04, 0.05], "format": "~g", "title": "Noise (σ)"}},
         "y": {"field": "r", "type": "quantitative", "scale": {"domain": [0, 0.1], "nice": false}, "axis": {"values": [0, 0.02, 0.04, 0.06, 0.08, 0.1], "format": "~g", "title": "RMSE"}},
         "color": {"field": "s", "type": "nominal", "scale": {"domain": ["Eulerian α = 10.0", "Lagrangian α = 10.0", "Eulerian α = 20.0", "Lagrangian α = 20.0", "Eulerian α = 50.0", "Lagrangian α = 50.0"], "range": ["#111111", "#111111", "#3c3c3c", "#3c3c3c", "#a8a8a8", "#a8a8a8"]}, "legend": null},
         "strokeDash": {"field": "s", "type": "nominal", "scale": {"domain": ["Eulerian α = 10.0", "Lagrangian α = 10.0", "Eulerian α = 20.0", "Lagrangian α = 20.0", "Eulerian α = 50.0", "Lagrangian α = 50.0"], "range": [[1, 0], [12, 5], [1, 0], [12, 5], [1, 0], [12, 5]]}, "legend": null}
        }
       }
      ]
     },
     {
      "width": 454, "height": 233,
      "data": {"name": "sR"},
      "mark": {"type": "line", "strokeWidth": 2.5},
      "encoding": {
       "x": {"field": "x", "type": "quantitative", "scale": {"domain": [0, 50], "nice": false}, "axis": {"values": [0, 10, 20, 30, 40, 50], "title": "Amplification (α)"}},
       "y": {"field": "r", "type": "quantitative", "scale": {"domain": [0, 0.1], "nice": false}, "axis": {"values": [0, 0.02, 0.04, 0.06, 0.08, 0.1], "format": "~g", "title": "RMSE"}},
       "color": {"field": "s", "type": "nominal", "scale": {"domain": ["Eulerian σ = 0.001", "Lagrangian σ = 0.001", "Eulerian σ = 0.002", "Lagrangian σ = 0.002", "Eulerian σ = 0.004", "Lagrangian σ = 0.004"], "range": ["#111111", "#111111", "#3c3c3c", "#3c3c3c", "#a8a8a8", "#a8a8a8"]}, "legend": null},
       "strokeDash": {"field": "s", "type": "nominal", "scale": {"domain": ["Eulerian σ = 0.001", "Lagrangian σ = 0.001", "Eulerian σ = 0.002", "Lagrangian σ = 0.002", "Eulerian σ = 0.004", "Lagrangian σ = 0.004"], "range": [[1, 0], [12, 5], [1, 0], [12, 5], [1, 0], [12, 5]]}, "legend": null}
      }
     }
    ]
   }
  ]
 }
]
}
